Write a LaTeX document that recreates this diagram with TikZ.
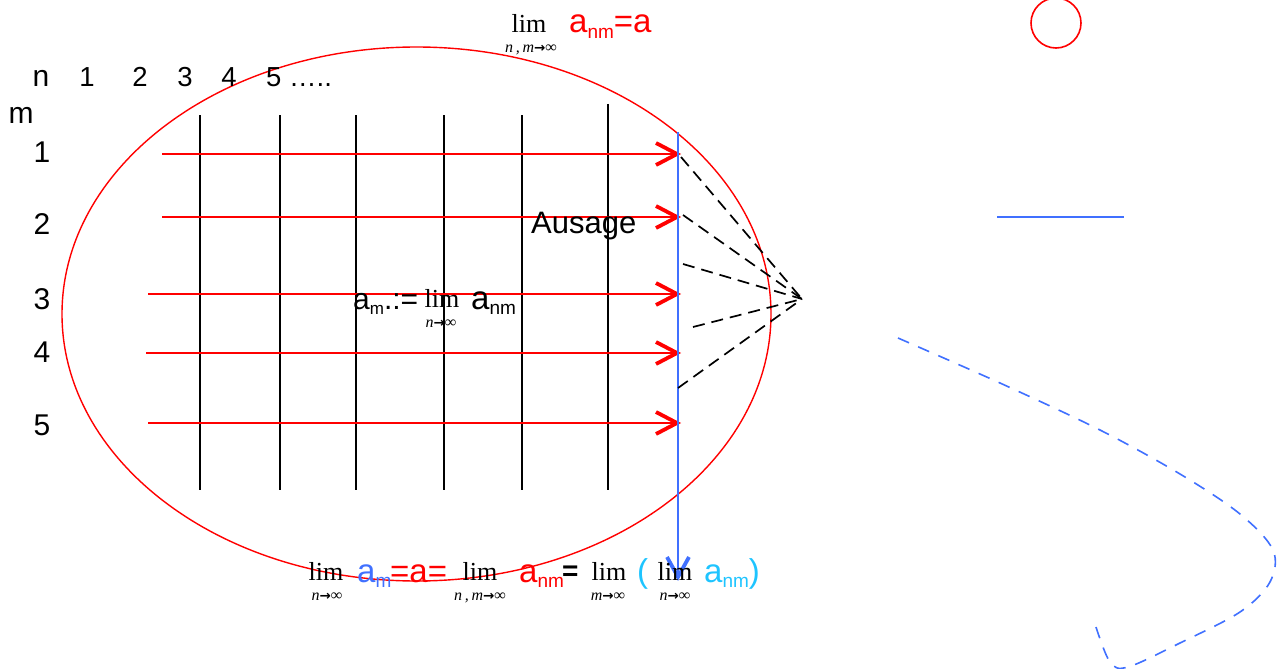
\documentclass[tikz,border=0pt]{standalone}
\usepackage{fontspec}
\setmainfont{Liberation Sans}
\newfontfamily\serif{Liberation Serif}
\newfontfamily\arrowfont{DejaVu Sans}
\definecolor{myred}{RGB}{255,0,0}
\definecolor{myblue}{RGB}{64,112,255}
\definecolor{mycyan}{RGB}{30,196,255}
\newcommand{\sub}[1]{\raisebox{-0.18em}{\fontsize{19}{19}\selectfont #1}}
\newcommand{\toarr}{{\upshape\arrowfont\bfseries\fontsize{13.5}{13.5}\selectfont →}}
\tikzset{
  txt/.style={inner sep=0pt, anchor=base west, font=\fontsize{33}{33}\selectfont},
  lbl/.style={inner sep=0pt, anchor=base, font=\fontsize{30}{30}\selectfont},
  col/.style={inner sep=0pt, anchor=base, font=\fontsize{27.5}{27.5}\selectfont},
  limtxt/.style={inner sep=0pt, anchor=base, font=\serif\fontsize{26}{26}\selectfont},
  limsub/.style={inner sep=0pt, anchor=base, font=\serif\itshape\fontsize{16}{16}\selectfont},
  gridline/.style={line width=1.8pt, black},
  redline/.style={line width=1.8pt, myred},
  chev/.style={line width=3.8pt, line join=miter, line cap=butt},
  fan/.style={line width=1.7pt, black, dash pattern=on 12pt off 7pt},
}
\begin{document}
\begin{tikzpicture}[x=1pt,y=-1pt]
\useasboundingbox (0,0) rectangle (1278,669);

% ellipse and circle
\draw[myred, line width=1.4pt] (416.5,314) ellipse [x radius=354.5, y radius=267];
\draw[myred, line width=1.6pt] (1056,23) circle [radius=25];
\draw[myblue, line width=2pt] (997,217) -- (1124,217);

% blue dashed curve
\begin{scope}
\clip (0,0) rectangle (1278,669);
\draw[myblue, line width=1.6pt, dash pattern=on 12pt off 10pt]
  plot[smooth, tension=0.55] coordinates {(898,338) (1000,383) (1100,430) (1180,474) (1240,514) (1273,550) (1270,582) (1240,612) (1180,643) (1128,667) (1110,662) (1096,627)};
\end{scope}

% vertical grid lines
\foreach \x in {200,280,356,444,522} \draw[gridline] (\x,115) -- (\x,490);
\draw[gridline] (608,104) -- (608,490);

% red arrows
\foreach \xs/\y in {162/154,162/217,148/294,146/353,148/423}{
  \coordinate (s\y) at (\xs,\y);
  \coordinate (e\y) at (677,\y);
  \draw[redline] (s\y) -- (e\y);
  \draw[myred, chev] (656,\y-11) -- (e\y) -- (656,\y+11);
}

% blue vertical arrow
\coordinate (btop) at (678,132);
\coordinate (bbot) at (678,577);
\draw[myblue, line width=2pt] (btop) -- (bbot);
\draw[myblue, chev] (667,557) -- (bbot) -- (689,557);

% dashed fan
\coordinate (apex) at (802,299);
\foreach \p in {(681,157),(683,215),(683,264),(693,327),(678,388)}
  \draw[fan] \p -- (apex);

% header labels
\node[lbl] (n) at (41,87) {n};
\node[col] (c1) at (87,87) {1};
\node[col] (c2) at (140,87) {2};
\node[col] (c3) at (185,87) {3};
\node[col] (c4) at (229,87) {4};
\node[col, anchor=base west] (c5) at (266,87) {5 …..};
\node[lbl] (m) at (21,124) {m};
\node[lbl] (r1) at (42,162) {1};
\node[lbl] (r2) at (42,234) {2};
\node[lbl] (r3) at (42,309) {3};
\node[lbl] (r4) at (42,362) {4};
\node[lbl] (r5) at (42,435) {5};

\node[txt, font=\fontsize{31}{31}\selectfont] (aus) at (531,233) {Ausage};

% middle formula
\node[txt, font=\fontsize{30}{30}\selectfont] (am) at (353,309) {a{\raisebox{-0.18em}{\fontsize{17}{17}\selectfont m}}.:=};
\node[limtxt] (lim1) at (442,307) {lim};
\node[limsub] (lim1s) at (441,327) {n\toarr∞};
\node[txt] (anm1) at (471,309) {a\sub{nm}};

% top formula
\node[limtxt] (lim0) at (529,33) {lim};
\node[limsub] (lim0s) at (531,53) {n\,,\,m\toarr∞};
\node[txt, text=myred] (anm0) at (569,33) {a\sub{nm}=a};

% bottom formula
\node[limtxt] (l1) at (326,580) {lim};
\node[limsub] (l1s) at (327,600) {n\toarr∞};
\node[txt, text=myblue] (b1) at (357,582) {a\sub{m}};
\node[txt, text=myred] (b2) at (390,582) {=a=};
\node[limtxt] (l2) at (480,580) {lim};
\node[limsub] (l2s) at (480,600) {n\,,\,m\toarr∞};
\node[txt, text=myred] (b3) at (519,582) {a\sub{nm}};
\node[txt, font=\bfseries\fontsize{28}{28}\selectfont] (b4) at (562,580) {=};
\node[limtxt] (l3) at (609,580) {lim};
\node[limsub] (l3s) at (608,600) {m\toarr∞};
\node[txt, text=mycyan] (b5) at (637,582) {(};
\node[limtxt] (l4) at (675,580) {lim};
\node[limsub] (l4s) at (675,600) {n\toarr∞};
\node[txt, text=mycyan] (b6) at (704,582) {a\sub{nm})};
\end{tikzpicture}
\end{document}
